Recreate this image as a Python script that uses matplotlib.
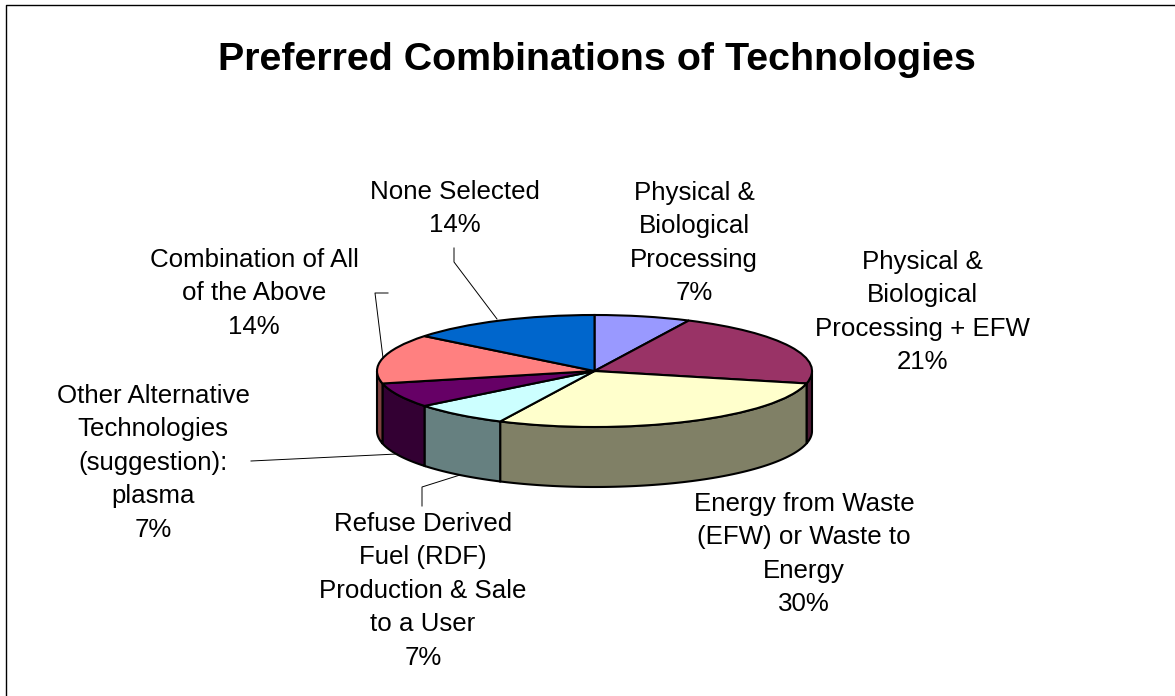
import numpy as np
import matplotlib
matplotlib.use("Agg")
import matplotlib.pyplot as plt
from matplotlib.lines import Line2D

plt.rcParams['font.family'] = ['Liberation Sans', 'DejaVu Sans']

W = 1175
H = 696

categories = ["Physical &\nBiological\nProcessing",
              "Physical &\nBiological\nProcessing + EFW",
              "Energy from Waste\n(EFW) or Waste to\nEnergy",
              "Refuse Derived\nFuel (RDF)\nProduction & Sale\nto a User",
              "Other Alternative\nTechnologies\n(suggestion):\nplasma",
              "Combination of All\nof the Above",
              "None Selected"]
# slice sizes as measured on the pie, percent printed on the labels
values = [7.14, 21.43, 28.57, 7.14, 7.14, 14.29, 14.29]
percents = ["7%", "21%", "30%", "7%", "7%", "14%", "14%"]
top_colors = ["#9999FF", "#993366", "#FFFFCC", "#CCFFFF", "#660066", "#FF8080", "#0066CC"]
side_colors = ["#4C4C80", "#4C1933", "#808066", "#668080", "#330033", "#804040", "#003366"]

# label centre x, y of first line (pixels)
label_pos = [(694, 191), (922, 260), (804, 502), (423, 522), (153, 394), (254, 258), (455, 190)]

leaders = [[(422, 506), (422, 487), (460, 475)],
           [(251, 461), (397, 454)],
           [(388, 293), (375, 293), (383, 358)],
           [(454, 248), (454, 262), (497, 319)]]

fig = plt.figure(figsize=(W / 100, H / 100), dpi=100, facecolor="white")

# pie box: top face 377-812 x 315-427, wall 60 px high
ry_px = 56.0
depth = 60.0 / ry_px
ax = fig.add_axes([377 / W, 1 - 487 / H, 435 / W, (487 - 315) / H])

# side wall, only the front half (90 to 270 deg clockwise from top) shows
edges = np.concatenate([[0], np.cumsum(values)]) / sum(values) * 360
for i in range(len(values)):
    a = max(edges[i], 90)
    b = min(edges[i + 1], 270)
    if a >= b:
        continue
    t = np.radians(np.linspace(a, b, 80))
    xs = np.concatenate([np.sin(t), np.sin(t[::-1])])
    ys = np.concatenate([np.cos(t), np.cos(t[::-1]) - depth])
    ax.fill(xs, ys, facecolor=side_colors[i], edgecolor="black", linewidth=1.5, zorder=1)

wedges, _ = ax.pie(values, colors=top_colors, startangle=90, counterclock=False,
                   wedgeprops={"edgecolor": "black", "linewidth": 1.5, "zorder": 2})
ax.set_aspect("auto")
ax.set_xlim(-1, 1)
ax.set_ylim(-1 - depth, 1)
ax.axis("off")
for art in ax.patches:
    art.set_clip_on(False)

for i in range(len(categories)):
    fig.text(label_pos[i][0] / W, 1 - (label_pos[i][1] - 10) / H,
             categories[i] + "\n" + percents[i],
             ha="center", va="top", ma="center", fontsize=18.6, linespacing=1.495, color="black")

for pts in leaders:
    fig.add_artist(Line2D([p[0] / W for p in pts], [1 - p[1] / H for p in pts],
                          color="black", linewidth=0.7))

fig.text(597 / W, 1 - 60 / H, "Preferred Combinations of Technologies",
         ha="center", va="center", fontsize=28.4, fontweight="bold")

# chart frame, only top and left are in the picture
fig.add_artist(Line2D([5.5 / W, 5.5 / W, 1], [0, 1 - 4.5 / H, 1 - 4.5 / H],
                      color="black", linewidth=1.0))

fig.savefig("out.png", dpi=100)
